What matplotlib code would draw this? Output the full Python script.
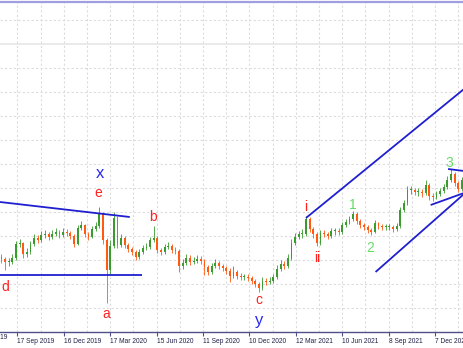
import matplotlib
matplotlib.use("Agg")
import matplotlib.pyplot as plt
import numpy as np

# ---- data (weekly candles, arbitrary price units) ----
first_open = 75
closes = [73, 70, 70, 74, 88, 89, 78, 80, 88, 94, 92, 97, 98, 95, 98, 100, 97, 100, 99, 96,
          88, 104, 107, 98, 95, 103, 106, 118, 92, 62, 86, 114, 87, 94, 87, 83, 80, 75, 80, 84,
          85, 92, 94, 82, 80, 85, 86, 82, 81, 66, 69, 74, 70, 71, 73, 71, 65, 60, 66, 69,
          66, 64, 61, 56, 60, 56, 55, 55, 54, 51, 48, 44, 51, 50, 51, 55, 63, 68, 66, 74,
          89, 95, 98, 98, 113, 103, 98, 89, 99, 98, 96, 101, 101, 100, 107, 110, 113, 118, 111, 107,
          105, 102, 100, 109, 106, 105, 105, 105, 103, 106, 122, 129, 142, 142, 140, 140, 139, 147, 136, 135,
          138, 141, 145, 152, 158, 149, 143, 152]
highs = [78, 75, 74, 78, 91, 93, 90, 84, 91, 98, 97, 101, 102, 100, 102, 104, 102, 104, 103, 101,
         98, 107, 111, 108, 100, 106, 110, 125, 120, 94, 92, 120, 116, 98, 96, 89, 85, 82, 83, 87,
         89, 95, 106, 96, 84, 88, 90, 88, 85, 83, 73, 78, 77, 75, 77, 76, 73, 67, 69, 73,
         71, 68, 66, 64, 66, 62, 59, 58, 58, 56, 53, 50, 55, 54, 55, 58, 67, 72, 71, 78,
         93, 99, 101, 103, 116, 115, 105, 100, 102, 102, 100, 104, 104, 104, 110, 113, 116, 121, 120, 113,
         109, 107, 104, 112, 110, 108, 108, 108, 107, 109, 125, 132, 146, 146, 144, 144, 143, 152, 149, 139,
         141, 144, 148, 156, 163, 160, 151, 155]
lows = [69, 62, 66, 68, 72, 85, 74, 75, 78, 86, 89, 90, 94, 92, 93, 96, 94, 95, 96, 93,
        85, 87, 102, 95, 92, 94, 101, 104, 88, 29, 58, 84, 84, 85, 84, 80, 77, 72, 73, 78,
        82, 83, 90, 79, 77, 78, 83, 79, 78, 60, 63, 67, 67, 68, 69, 68, 57, 57, 58, 64,
        63, 61, 58, 50, 54, 53, 52, 52, 51, 48, 45, 40, 42, 47, 48, 49, 53, 61, 63, 64,
        72, 87, 93, 94, 96, 100, 94, 86, 87, 95, 93, 94, 97, 97, 98, 105, 108, 111, 108, 104,
        102, 99, 97, 99, 103, 102, 102, 102, 100, 101, 104, 120, 127, 138, 137, 136, 135, 137, 132, 131,
        133, 136, 139, 143, 150, 146, 140, 141]

tick_bars = [24, 88, 152, 216, 280, 344, 408, 472, 536, 600]
tick_labels = ["17 Sep 2019", "16 Dec 2019", "17 Mar 2020", "15 Jun 2020", "11 Sep 2020",
               "10 Dec 2020", "12 Mar 2021", "10 Jun 2021", "8 Sep 2021", "7 Dec 2021"]
prev_tick_bar = -40
prev_tick_label = "18 Jun 2019"

# wave labels: (text, bar, price, colour-group)
wave_text = ["d", "x", "e", "a", "b", "c", "y", "i", "ii", "1", "2", "3"]
wave_bar = [7, 138, 135, 146, 211, 357, 357, 422, 437, 487, 510, 619]
wave_price = [45, 159, 139, 18, 115, 32, 12, 125, 74, 127, 84, 169]
wave_group = ["r", "b", "r", "r", "r", "r", "b", "r", "r", "g", "g", "g"]

# trend lines: (bar0, price0, bar1, price1)
trend_lines = [(0, 130, 179, 115),
               (0, 57, 196, 57),
               (422, 114, 640, 243),
               (518, 60, 640, 138),
               (594, 127, 640, 139),
               (618, 163, 640, 161)]

# ---- figure ----
W, H = 463, 348
fig = plt.figure(figsize=(W / 100, H / 100), dpi=100)
ax = fig.add_axes([0, 16 / H, 1, 332 / H])
ax.set_xlim(0, 638.6)
ax.set_ylim(0, 332)
fig.patch.set_facecolor("white")
ax.set_facecolor("white")

grid_col = "#dcdcdc"
for gx in range(-8, 660, 32):
    ax.axvline(gx, color=grid_col, lw=0.8, ls=(0, (2, 2)), zorder=0)
for gy in np.arange(0.5, 332, 24):
    if abs(gy - 288.5) < 1:
        ax.axhline(gy, color="#e6e6e6", lw=1.2, zorder=0)
    else:
        ax.axhline(gy, color=grid_col, lw=0.8, ls=(0, (2, 2)), zorder=0)
ax.axhline(330, color="#9f9fe0", lw=1.6, zorder=1)

opens = [first_open] + closes[:-1]
xs = np.arange(len(closes)) * 5 + 2
up_col, dn_col = "#3a9c2e", "#ff5a10"
for xi, o, c, h, l in zip(xs, opens, closes, highs, lows):
    col = up_col if c >= o else dn_col
    ax.vlines(xi, l, h, color=col, lw=0.6, zorder=2)
    bot = min(o, c)
    ht = max(abs(c - o), 0.8)
    ax.bar(xi, ht, bottom=bot, width=2.6, color=col, lw=0, zorder=3)

for x0, y0, x1, y1 in trend_lines:
    ax.plot([x0, x1], [y0, y1], color="#1f1fd0", lw=1.3, zorder=4, solid_capstyle="butt")

cols = {"r": "#ff2020", "b": "#2828f0", "g": "#66dd66"}
sizes = {"r": 10, "b": 12, "g": 10}
for t, bx, p, g in zip(wave_text, wave_bar, wave_price, wave_group):
    ax.text(bx, p, t, color=cols[g], fontsize=sizes[g], ha="center", va="center",
            family=["Liberation Sans", "DejaVu Sans"], zorder=5)

for s in ["left", "right", "top"]:
    ax.spines[s].set_visible(False)
ax.spines["bottom"].set_color("#50508c")
ax.spines["bottom"].set_linewidth(1.0)
ax.set_yticks([])
ax.set_xticks(tick_bars)
ax.set_xticklabels(tick_labels)
ax.tick_params(axis="x", length=3, width=0.8, color="#50508c", pad=1.5,
               labelsize=4.8, labelcolor="#20204a")
for lab in ax.get_xticklabels():
    lab.set_horizontalalignment("left")
    lab.set_family(["Liberation Sans Narrow", "Liberation Sans", "DejaVu Sans"])
ax.text(prev_tick_bar, -2.2, prev_tick_label, transform=ax.transData, ha="left", va="top",
        fontsize=4.8, color="#20204a", clip_on=False,
        family=["Liberation Sans Narrow", "Liberation Sans", "DejaVu Sans"])

fig.savefig("out.png", dpi=100)
